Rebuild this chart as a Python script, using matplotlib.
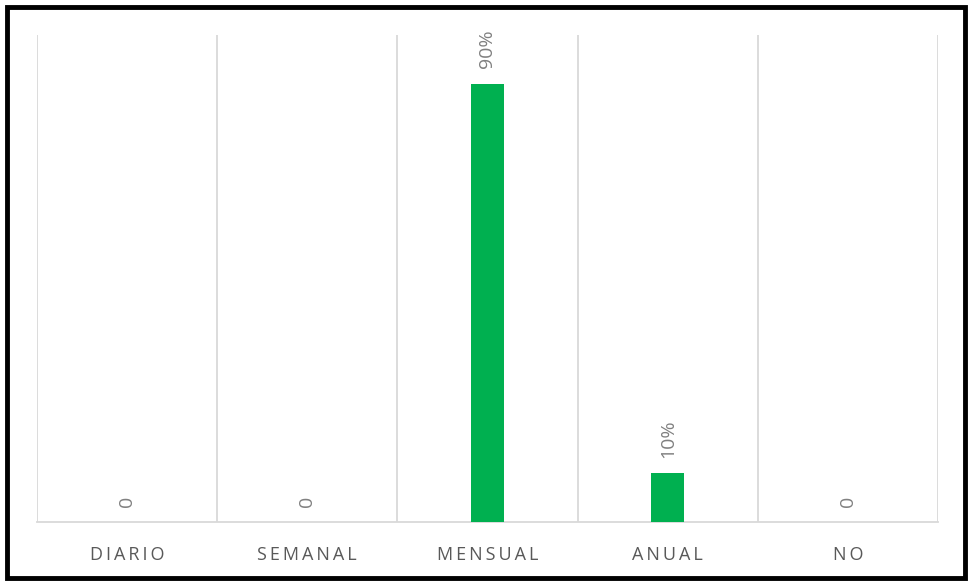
import matplotlib.pyplot as plt
from matplotlib.patches import Rectangle

plt.rcParams["font.family"] = ["Open Sans", "DejaVu Sans"]

# Frecuencia de uso
categorias = ["DIARIO", "SEMANAL", "MENSUAL", "ANUAL", "NO"]
valores = [0.0, 0.0, 0.90, 0.10, 0.0]
etiquetas = ["0", "0", "90%", "10%", "0"]

fig = plt.figure(figsize=(9.71, 5.83), dpi=100)
ax = fig.add_axes([0.0381, 0.1046, 0.9279, 0.8354])

x = range(len(categorias))
ax.bar(x, valores, width=0.18, color="#00b050", zorder=3)

for xi, v, txt in zip(x, valores, etiquetas):
    ax.annotate(txt, (xi, v), xytext=(0, 11), textcoords="offset points",
                rotation=90, ha="center", va="bottom",
                fontsize=14, color="#808080")

ax.set_xlim(-0.5, len(categorias) - 0.5)
ax.set_ylim(0, 1.0)

# lineas verticales entre categorias
for b in range(len(categorias) + 1):
    ax.axvline(b - 0.5, color="#d9d9d9", lw=1.3, zorder=1)

ax.set_xticks(list(x))
ax.set_xticklabels(["\u2009".join(c) for c in categorias],
                   fontsize=13, color="#595959")
ax.tick_params(axis="x", length=0, pad=17)
ax.set_yticks([])

for s in ["top", "left", "right"]:
    ax.spines[s].set_visible(False)
ax.spines["bottom"].set_color("#d9d9d9")
ax.spines["bottom"].set_linewidth(1.3)

# marco negro exterior
fig.patches.append(Rectangle((0.0072, 0.0094), 0.9866, 0.9794,
                             transform=fig.transFigure, fill=False,
                             edgecolor="black", linewidth=3.5))

fig.savefig("out.png", dpi=100)
